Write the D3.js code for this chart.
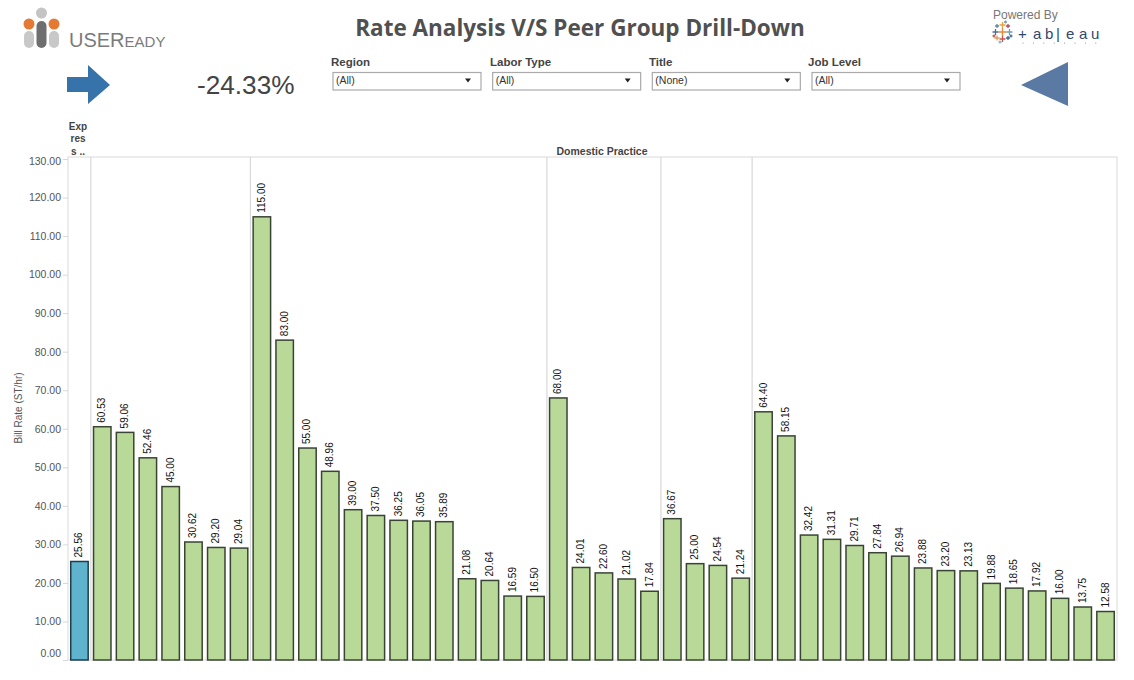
<!DOCTYPE html>
<html>
<head>
<meta charset="utf-8">
<title>Rate Analysis V/S Peer Group Drill-Down</title>
<script src="https://cdn.jsdelivr.net/npm/d3@7"></script>
<style>
  html, body { margin: 0; padding: 0; background: #fff; overflow: hidden; }
  text { font-family: "Liberation Sans", Arial, sans-serif; }
</style>
</head>
<body>
<div id="chart"></div>
<script>
// values
const expressValues = [25.56];
const domesticValues = [
  60.53, 59.06, 52.46, 45.00, 30.62, 29.20, 29.04,
  115.00, 83.00, 55.00, 48.96, 39.00, 37.50, 36.25, 36.05, 35.89, 21.08, 20.64, 16.59, 16.50,
  68.00, 24.01, 22.60, 21.02, 17.84,
  36.67, 25.00, 24.54, 21.24,
  64.40, 58.15, 32.42, 31.31, 29.71, 27.84, 26.94, 23.88, 23.20, 23.13, 19.88, 18.65, 17.92, 16.00, 13.75, 12.58
];
const sectionSizes = [1, 7, 13, 5, 4, 16];
const yTicks = [0, 10, 20, 30, 40, 50, 60, 70, 80, 90, 100, 110, 120, 130];
const filterNames = ["Region", "Labor Type", "Title", "Job Level"];
const filterValues = ["(All)", "(All)", "(None)", "(All)"];
const tableauPlusColors = ["#e8873a", "#e8a33d", "#c9554e", "#4e6d94", "#6fa0b5", "#5b87a8", "#b04a5a", "#d9a25a", "#3c6a8f", "#7a9cb8", "#c9554e", "#4e6d94", "#8fb0c4"];

const width = 1134, height = 680;
const plot = {left: 68, right: 1117, top: 157, bottom: 660};
const values = expressValues.concat(domesticValues);

const svg = d3.select("#chart").append("svg")
  .attr("width", width).attr("height", height)
  .style("display", "block");

const x = d3.scaleBand()
  .domain(d3.range(values.length))
  .range([plot.left, plot.right])
  .paddingInner(0.235)
  .paddingOuter(0.12);
const y = d3.scaleLinear().domain([0, 130]).range([plot.bottom, 159]);

// panel frame
svg.append("rect")
  .attr("x", plot.left).attr("y", plot.top)
  .attr("width", plot.right - plot.left).attr("height", plot.bottom - plot.top)
  .attr("fill", "none").attr("stroke", "#e0e0e0").attr("stroke-width", 1.2);

// section dividers
let cum = 0;
const dividers = sectionSizes.slice(0, -1).map(n => { cum += n; return cum; });
svg.selectAll(".divider").data(dividers).enter().append("line")
  .attr("class", "divider")
  .attr("x1", d => plot.left + d * (plot.right - plot.left) / values.length)
  .attr("x2", d => plot.left + d * (plot.right - plot.left) / values.length)
  .attr("y1", plot.top).attr("y2", plot.bottom)
  .attr("stroke", "#d8d8d8").attr("stroke-width", 1.2);

// y axis
const yAxis = svg.append("g")
  .attr("transform", `translate(${plot.left},0)`)
  .call(d3.axisLeft(y).tickValues(yTicks).tickFormat(d3.format(".2f")).tickSize(5).tickPadding(2));
yAxis.select(".domain").remove();
yAxis.selectAll(".tick line").attr("stroke", "#d8d8d8");
yAxis.selectAll(".tick text")
  .style("font-size", "10.5px")
  .attr("fill", "#555")
  .attr("dy", d => d === 0 ? "-0.35em" : d === 130 ? "0.55em" : "0.32em");

svg.append("text")
  .attr("transform", "translate(21.5,408) rotate(-90)")
  .attr("text-anchor", "middle")
  .style("font-size", "10px").attr("fill", "#555")
  .text("Bill Rate (ST/hr)");

// bars
svg.selectAll(".bar").data(values).enter().append("rect")
  .attr("class", "bar")
  .attr("x", (d, i) => x(i))
  .attr("y", d => y(d))
  .attr("width", x.bandwidth())
  .attr("height", d => plot.bottom - y(d))
  .attr("fill", (d, i) => i < expressValues.length ? "#5fb3cc" : "#b8d998")
  .attr("stroke", (d, i) => i < expressValues.length ? "#1f3d4a" : "#3a4434")
  .attr("stroke-width", 1.5);

// value labels
svg.selectAll(".val").data(values).enter().append("text")
  .attr("class", "val")
  .attr("transform", (d, i) => `translate(${x(i) + x.bandwidth() / 2 + 3},${y(d) - 4}) rotate(-90)`)
  .style("font-size", "10px")
  .attr("fill", "#111")
  .text(d => d3.format(".2f")(d));

// column headers
["Exp", "res", "s .."].forEach((t, i) => {
  svg.append("text")
    .attr("x", 78).attr("y", 130 + i * 12.3)
    .attr("text-anchor", "middle")
    .style("font-size", "10px").style("font-weight", "bold").attr("fill", "#444")
    .text(t);
});
svg.append("text")
  .attr("x", 602).attr("y", 154.5)
  .attr("text-anchor", "middle")
  .style("font-size", "10.5px").style("font-weight", "bold").attr("fill", "#444")
  .text("Domestic Practice");

// title
svg.append("text")
  .attr("x", 580).attr("y", 36)
  .attr("text-anchor", "middle")
  .style("font-family", '"Open Sans", sans-serif')
  .style("font-size", "22.5px").style("font-weight", "bold").attr("fill", "#505050")
  .text("Rate Analysis V/S Peer Group Drill-Down");

// kpi
svg.append("text")
  .attr("x", 197).attr("y", 94)
  .style("font-size", "26.2px").attr("fill", "#444")
  .text("-24.33%");

// arrows
svg.append("path")
  .attr("d", "M67,77 L88,77 L88,65 L110,85 L88,104 L88,92 L67,92 Z")
  .attr("fill", "#3673ab");
svg.append("path")
  .attr("d", "M1021,85 L1068,62 L1068,106 Z")
  .attr("fill", "#5a7aa3");

// filters
const filterLabelX = d3.scalePoint().domain(filterNames).range([331, 808]);
const filterBoxX = d3.scalePoint().domain(filterNames).range([333, 812]);
svg.selectAll(".filter-label").data(filterNames).enter().append("text")
  .attr("class", "filter-label")
  .attr("x", d => filterLabelX(d)).attr("y", 66)
  .style("font-size", "11.5px").style("font-weight", "bold").attr("fill", "#444")
  .text(d => d);
const filters = svg.selectAll(".filter").data(filterNames).enter().append("g")
  .attr("class", "filter")
  .attr("transform", d => `translate(${filterBoxX(d)},0)`);
filters.append("rect")
  .attr("x", 0).attr("y", 72.5)
  .attr("width", 148).attr("height", 17.5)
  .attr("fill", "#fff").attr("stroke", "#aaa").attr("stroke-width", 1.2);
filters.append("text")
  .attr("x", 3).attr("y", 83.5)
  .style("font-size", "10.5px").attr("fill", "#333")
  .text((d, i) => filterValues[i]);
filters.append("path")
  .attr("d", "M132,78.5 L138,78.5 L135,82.5 Z")
  .attr("fill", "#222");

// useready logo
const logo = svg.append("g");
logo.append("circle").attr("cx", 41.5).attr("cy", 13).attr("r", 5.5).attr("fill", "#c4c4c4");
logo.append("circle").attr("cx", 29).attr("cy", 24).attr("r", 5.5).attr("fill", "#e57a35");
logo.append("circle").attr("cx", 54).attr("cy", 24).attr("r", 5.5).attr("fill", "#e57a35");
logo.append("rect").attr("x", 24).attr("y", 31).attr("width", 10).attr("height", 17).attr("rx", 5).attr("fill", "#c8c8c8");
logo.append("rect").attr("x", 36.5).attr("y", 21).attr("width", 10).attr("height", 27).attr("rx", 5).attr("fill", "#6e6e6e");
logo.append("rect").attr("x", 49).attr("y", 31).attr("width", 10).attr("height", 17).attr("rx", 5).attr("fill", "#c8c8c8");
const logoText = logo.append("text").attr("x", 69).attr("y", 47).attr("fill", "#7b7b7b");
logoText.append("tspan").style("font-size", "20px").text("USER");
logoText.append("tspan").style("font-size", "15px").text("EADY");

// tableau logo
svg.append("text")
  .attr("x", 993).attr("y", 19)
  .style("font-size", "12px").attr("fill", "#777")
  .text("Powered By");
const plusMarks = [[1002.5, 32, 4], [1002.5, 25, 3], [1002.5, 39, 3], [995.5, 32, 3], [1009.5, 32, 3], [997, 26, 2], [1008, 26, 2], [997, 38, 2.5], [1008, 38, 2], [1005.5, 22, 1.5], [994, 36, 1.5], [1011, 36, 1.5], [1000, 42, 1.5]];
svg.selectAll(".plus").data(plusMarks).enter().append("path")
  .attr("class", "plus")
  .attr("d", d => `M${d[0] - d[2]},${d[1]} H${d[0] + d[2]} M${d[0]},${d[1] - d[2]} V${d[1] + d[2]}`)
  .attr("stroke", (d, i) => tableauPlusColors[i])
  .attr("stroke-width", 1.3);
svg.append("text")
  .attr("x", "1018 1033 1045 1056 1066 1079 1091").attr("y", 39)
  .style("font-size", "15px").attr("fill", "#2f4a6d")
  .text("+ab|eau");
svg.selectAll(".softdot").data(d3.range(8)).enter().append("circle")
  .attr("class", "softdot")
  .attr("cx", d => 1023 + d * 10.4).attr("cy", 43).attr("r", 0.6).attr("fill", "#888");
</script>
</body>
</html>
